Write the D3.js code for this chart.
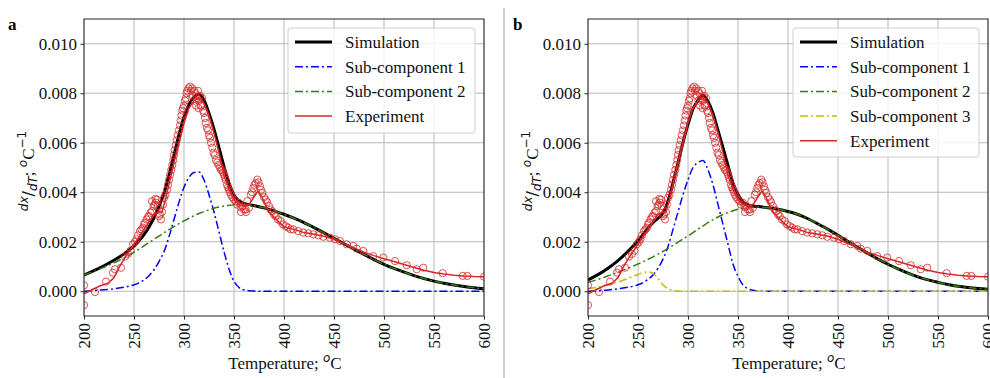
<!DOCTYPE html>
<html>
<head>
<meta charset="utf-8">
<script src="https://cdn.jsdelivr.net/npm/d3@7"></script>
<style>
  body { margin: 0; background: #fff; }
  svg { display: block; }
</style>
</head>
<body>
<svg id="chart" width="990" height="378"></svg>
<script>
// Temperature grid (°C) shared by the simulated curves
const temperature = [200,210,220,230,240,250,255,260,265,270,275,280,285,290,295,300,305,310,315,320,325,330,335,340,345,350,355,360,365,370,380,390,400,410,420,430,440,450,460,470,480,490,500,510,520,530,540,550,560,570,580,590,600];

// Panel a: two-component model
const simulationA = [0.00065,0.00083,0.00103,0.00125,0.00151,0.00183,
  0.00204,0.00229,0.0026,0.00297,0.00343,0.00396,0.00469,0.0055,0.00633,0.00704,
  0.00755,0.00785,0.00796,0.00772,0.00719,0.00655,0.0058,0.00504,0.00437,0.00389,
  0.00365,0.00355,0.0035,0.00346,
  0.00337,0.00325,0.00311,0.00295,0.00277,0.00257,0.00236,0.00214,0.00192,0.0017,0.00149,0.00128,0.00109,0.00092,0.00077,0.00063,0.00051,0.00041,0.00032,0.00025,0.00019,0.00014,0.0001];
const comp1A = [0,0.00003,0.00006,0.0001,0.00016,0.00026,
  0.00034,0.00046,0.00063,0.00087,0.0012,0.0016,0.0022,0.0029,0.0036,0.0042,
  0.0046,0.0048,0.00482,0.0045,0.0039,0.0032,0.0024,0.0016,0.0009,0.0004,
  0.00015,0.00005,0.00002,0.00001,
  0,0,0,0,0,0,0,0,0,0,0,0,0,0,0,0,0,0,0,0,0,0,0];
const comp2A = [0.00065,0.0008,0.00097,0.00115,0.00135,0.00157,
  0.0017,0.00183,0.00197,0.0021,0.00223,0.00236,0.00249,0.00261,0.00273,0.00284,
  0.00295,0.00305,0.00314,0.00322,0.00329,0.00335,0.0034,0.00344,0.00347,0.00349,
  0.0035,0.0035,0.00348,0.00345,
  0.00337,0.00325,0.00311,0.00295,0.00277,0.00257,0.00236,0.00214,0.00192,0.0017,0.00149,0.00128,0.00109,0.00092,0.00077,0.00063,0.00051,0.00041,0.00032,0.00025,0.00019,0.00014,0.0001];

// Panel b: three-component model
const simulationB = [0.00046,0.00067,0.00093,0.00124,0.00161,0.00204,
  0.00229,0.00255,0.00277,0.00295,0.00317,0.00363,0.00438,0.00519,0.00601,0.00674,
  0.00737,0.00771,0.00792,0.00767,0.00719,0.0065,0.0058,0.00508,0.00436,0.00391,
  0.0036,0.00348,0.00344,0.00342,
  0.00337,0.00331,0.00322,0.0031,0.00293,0.00272,0.0025,0.00226,0.00201,0.00177,0.00153,0.0013,0.00109,0.0009,0.00073,0.00058,0.00046,0.00036,0.00027,0.0002,0.00015,0.00011,0.00008];
const comp1B = [0,0.00002,0.00005,0.0001,0.00016,0.00026,
  0.00035,0.00048,0.00066,0.00093,0.0013,0.0018,0.0025,0.0032,0.0039,0.0045,
  0.005,0.0052,0.00528,0.0049,0.0043,0.0035,0.0027,0.0019,0.0011,0.0006,
  0.00025,0.0001,0.00004,0.00002,
  0,0,0,0,0,0,0,0,0,0,0,0,0,0,0,0,0,0,0,0,0,0,0];
const comp2B = [0.00036,0.00048,0.00062,0.00077,0.00093,0.0011,
  0.00119,0.00129,0.00139,0.0015,0.00161,0.00173,0.00185,0.00198,0.00211,0.00224,
  0.00237,0.00251,0.00264,0.00277,0.00289,0.003,0.0031,0.00318,0.00325,0.00331,
  0.00335,0.00338,0.0034,0.0034,
  0.00337,0.00331,0.00322,0.0031,0.00293,0.00272,0.0025,0.00226,0.00201,0.00177,0.00153,0.0013,0.00109,0.0009,0.00073,0.00058,0.00046,0.00036,0.00027,0.0002,0.00015,0.00011,0.00008];
const comp3B = [0.0001,0.00017,0.00026,0.00037,0.00052,0.00068,
  0.00075,0.00078,0.00072,0.00052,0.00026,0.0001,0.00003,0.00001,0,0,
  0,0,0,0,0,0,0,0,0,0,
  0,0,0,0,
  0,0,0,0,0,0,0,0,0,0,0,0,0,0,0,0,0,0,0,0,0,0,0];

// Measured curve (smoothed) and raw measurement points
const experimentT = [200,205,210,215,220,225,230,235,240,245,250,255,260,265,270,274,278,282,286,290,295,300,305,310,315,320,325,330,335,340,345,350,355,360,365,370,374,378,385,390,395,400,410,420,430,440,450,460,470,480,490,500,510,520,530,540,550,560,570,580,590,600];
const experimentV = [-0.0001,0,0.0001,0.0002,0.00027,0.00035,0.00055,0.00095,0.0013,0.0016,
  0.0019,0.0022,0.0025,0.0028,0.0031,0.0032,0.0032,0.0038,0.0045,0.0052,
  0.006,0.0068,0.0074,0.0077,0.0078,0.0076,0.0071,0.0064,0.0056,0.0047,
  0.0041,0.0037,0.0035,0.00345,0.0035,0.0038,0.00405,0.0038,0.0032,0.003,
  0.0028,0.0026,0.0025,0.00237,0.0023,0.00222,0.0021,0.00193,0.00175,0.00158,
  0.00144,0.00131,0.0012,0.00108,0.00096,0.00085,0.00076,0.0007,0.00065,0.00062,
  0.0006,0.00059];
const experimentPoints = [[200,0.00024],[200,-0.00056],[211,-0.00003],[222,0.00039],[229,0.00075],[231,0.00089],[237,0.00095],[241,0.0014],[244,0.00151],[246.5,0.00164],[249,0.0019],[251,0.002],[252.5,0.0021],[254,0.00226],[256,0.00243],[257.5,0.0025],[259,0.00257],[260,0.0027],[261,0.00277],[262.5,0.0029],[264,0.003],[265,0.00304],[266.5,0.00317],[268,0.00324],[268,0.00364],[269.5,0.00344],[270.5,0.0035],[271.5,0.00373],[272,0.00358],[273,0.0037],[274,0.00344],[275,0.00303],[276,0.0031],[277,0.0029],[278,0.0032],[279,0.0035],[280,0.00377],[281.5,0.0039],[283,0.0041],[284,0.0043],[285,0.0045],[286,0.0047],[287.3,0.0049],[288.3,0.0051],[289.3,0.0053],[290,0.0055],[290.7,0.0057],[291.7,0.0059],[292.7,0.0061],[293.7,0.0063],[295,0.0065],[296,0.0067],[296.7,0.0069],[297.5,0.0071],[298.3,0.0073],[299,0.0074],[300,0.0075],[301,0.0077],[301.7,0.0078],[302.5,0.008],[303.3,0.0081],[304.5,0.0082],[306,0.00827],[307,0.0081],[308.3,0.0082],[309,0.0079],[310,0.0081],[310.5,0.0077],[311.5,0.008],[312,0.0075],[313,0.0078],[314,0.0081],[314.5,0.0074],[315,0.0077],[316,0.0079],[316.5,0.0075],[317.3,0.0075],[318,0.0078],[319,0.0073],[320,0.0072],[321,0.007],[321.7,0.0068],[323,0.0066],[324,0.0065],[325,0.0063],[326,0.0062],[327,0.006],[328.3,0.0058],[329.5,0.0056],[330.7,0.0055],[332,0.0053],[333.3,0.0052],[334.5,0.0051],[336,0.005],[337,0.0049],[338.3,0.0049],[339,0.0048],[340,0.0047],[341,0.0046],[341.7,0.0045],[343,0.0043],[344,0.0042],[345,0.0041],[346,0.004],[347,0.0039],[348.3,0.0038],[350,0.0037],[351.7,0.00364],[353,0.0035],[355,0.00357],[356.5,0.0034],[357,0.0032],[358.3,0.00344],[360,0.0033],[361.7,0.0033],[362,0.0032],[363.3,0.00364],[365,0.00337],[366.7,0.0039],[368,0.004],[369.3,0.00417],[370.5,0.0043],[371.7,0.00437],[373.3,0.00451],[374.5,0.0044],[376,0.00424],[377,0.0041],[378.3,0.00397],[380,0.0038],[381.7,0.0037],[383,0.0036],[385,0.00344],[386.5,0.0033],[388.3,0.00323],[390,0.0031],[391.7,0.00303],[394,0.0029],[396.7,0.00283],[399,0.0027],[401.7,0.00263],[404,0.00257],[406.7,0.0025],[409.3,0.0025],[414.3,0.00243],[419.3,0.00237],[424.3,0.00234],[429.3,0.0023],[434.3,0.00226],[439.3,0.0022],[446,0.00216],[451,0.0021],[456,0.00203],[462.7,0.0019],[469.3,0.00183],[472.7,0.00172],[479.3,0.00163],[489.3,0.00142],[499.3,0.00136],[511,0.00122],[522.7,0.00105],[532.7,0.00089],[539.3,0.00095],[558.7,0.00073],[578.7,0.00062],[583.3,0.00062],[600,0.00059]];

// Axis ticks
const xTicks = [200,250,300,350,400,450,500,550,600];
const yTicks = [0,0.002,0.004,0.006,0.008,0.010];

const SERIF = "'Liberation Serif','Times New Roman',Times,serif";
const SANS = "'DejaVu Sans',sans-serif";
const RED = "#d62728";

const svg = d3.select("#chart");

// thin divider between the panels
svg.append("line").attr("x1", 504).attr("x2", 504).attr("y1", 8).attr("y2", 378)
  .attr("stroke", "#9a9a9a").attr("stroke-width", 1);

function drawPanel(p) {
  const top = 19, bottom = 316;
  const x = d3.scaleLinear().domain([200, 600]).range([p.x0, p.x0 + 400]);
  const y = d3.scaleLinear().domain([-0.001, 0.011]).range([bottom, top]);
  const g = svg.append("g");

  const clipId = "clip-" + p.tag;
  svg.append("clipPath").attr("id", clipId).append("rect")
    .attr("x", p.x0).attr("y", top).attr("width", 400).attr("height", bottom - top);

  // grid
  g.append("g").selectAll("line").data(xTicks).join("line")
    .attr("x1", d => x(d)).attr("x2", d => x(d)).attr("y1", top).attr("y2", bottom)
    .attr("stroke", "#b9b9b9").attr("stroke-width", 1);
  g.append("g").selectAll("line").data(yTicks).join("line")
    .attr("x1", p.x0).attr("x2", p.x0 + 400).attr("y1", d => y(d)).attr("y2", d => y(d))
    .attr("stroke", "#b9b9b9").attr("stroke-width", 1);

  // curves
  const plot = g.append("g").attr("clip-path", `url(#${clipId})`);
  const smooth = d3.line().x(d => x(d[0])).y(d => y(d[1])).curve(d3.curveMonotoneX);
  const straight = d3.line().x(d => x(d[0])).y(d => y(d[1]));

  p.series.forEach(s => {
    const pts = s.values.map((v, i) => [s.t[i], v]);
    plot.append("path").attr("d", s.smooth ? smooth(pts) : straight(pts))
      .attr("fill", "none").attr("stroke", s.color).attr("stroke-width", s.width)
      .attr("stroke-dasharray", s.dash || null).attr("stroke-linejoin", "round");
  });

  plot.append("g").selectAll("circle").data(experimentPoints).join("circle")
    .attr("cx", d => x(d[0])).attr("cy", d => y(d[1])).attr("r", 3.6)
    .attr("fill", "none").attr("stroke", RED).attr("stroke-opacity", 0.8).attr("stroke-width", 1);

  // axes
  const ax = g.append("g").attr("transform", `translate(0,${bottom})`)
    .call(d3.axisBottom(x).tickValues(xTicks).tickFormat(d3.format("d")).tickSize(3.5).tickPadding(3.5));
  ax.select(".domain").remove();
  ax.selectAll("text").attr("transform", "rotate(-90)").attr("text-anchor", "end")
    .attr("x", -7).attr("y", 0).attr("dy", "0.35em")
    .style("font-family", SERIF).style("font-size", "17px").attr("fill", "#111");
  ax.selectAll("line").attr("stroke", "#222");

  const ay = g.append("g").attr("transform", `translate(${p.x0},0)`)
    .call(d3.axisLeft(y).tickValues(yTicks).tickFormat(d3.format(".3f")).tickSize(3.5).tickPadding(3.5));
  ay.select(".domain").remove();
  ay.selectAll("text").style("font-family", SERIF).style("font-size", "17px").attr("fill", "#111");
  ay.selectAll("line").attr("stroke", "#222");

  g.append("rect").attr("x", p.x0).attr("y", top).attr("width", 400).attr("height", bottom - top)
    .attr("fill", "none").attr("stroke", "#262626").attr("stroke-width", 1);

  // x label
  const xl = g.append("text").attr("x", p.x0 + 201).attr("y", 369).attr("text-anchor", "middle")
    .style("font-family", SERIF).style("font-size", "17px").attr("fill", "#111");
  xl.append("tspan").text("Temperature; ");
  xl.append("tspan").text("o").style("font-size", "12px").attr("dy", -7)
    .style("font-family", SANS).style("font-style", "italic");
  xl.append("tspan").text("C").attr("dy", 7);

  // y label
  const yl = g.append("text").attr("transform", `translate(${p.x0 - 50},171) rotate(-90)`)
    .attr("text-anchor", "middle").style("font-family", SERIF).style("font-size", "17px").attr("fill", "#111");
  yl.append("tspan").text("dx").style("font-family", SANS).style("font-style", "italic").style("font-size", "12px").attr("dy", -6);
  yl.append("tspan").text("/").style("font-family", SANS).style("font-size", "16px").attr("dy", 6);
  yl.append("tspan").text("dT").style("font-family", SANS).style("font-style", "italic").style("font-size", "12px").attr("dy", 3);
  yl.append("tspan").text("; ").attr("dy", -3);
  yl.append("tspan").text("o").style("font-family", SANS).style("font-style", "italic").style("font-size", "12px").attr("dy", -7);
  yl.append("tspan").text("C").attr("dy", 7);
  yl.append("tspan").text("−1").style("font-family", SANS).style("font-size", "12px").attr("dy", -8);

  // panel tag
  svg.append("text").attr("x", p.tagX).attr("y", 30).text(p.tag)
    .style("font-family", SERIF).style("font-size", "17px").style("font-weight", "bold").attr("fill", "#000");

  // legend
  const L = p.legend;
  const lg = g.append("g");
  lg.append("rect").attr("x", L.x).attr("y", L.y).attr("width", L.w).attr("height", L.h)
    .attr("rx", 3).attr("fill", "#fff").attr("fill-opacity", 0.8)
    .attr("stroke", "#cfcfcf").attr("stroke-width", 1);
  p.legendItems.forEach((s, i) => {
    const cy = L.y + 14 + i * 24.7;
    lg.append("line").attr("x1", L.x + 7).attr("x2", L.x + 44).attr("y1", cy).attr("y2", cy)
      .attr("stroke", s.color).attr("stroke-width", s.width).attr("stroke-dasharray", s.dash || null);
    lg.append("text").attr("x", L.x + 57).attr("y", cy).attr("dy", "0.35em").text(s.name)
      .style("font-family", SERIF).style("font-size", "17px").attr("fill", "#111");
  });
}

const DASHDOT = "8,3,2,3";
const sim = (v) => ({ name: "Simulation", t: temperature, values: v, color: "#000", width: 3, smooth: true });
const exper = { name: "Experiment", t: experimentT, values: experimentV, color: RED, width: 1.5, smooth: false };

const sA = sim(simulationA);
const c1A = { name: "Sub-component 1", t: temperature, values: comp1A, color: "#0000ff", width: 1.5, dash: DASHDOT, smooth: true };
const c2A = { name: "Sub-component 2", t: temperature, values: comp2A, color: "#3a7a12", width: 1.5, dash: DASHDOT, smooth: true };
drawPanel({ tag: "a", tagX: 8, x0: 84, series: [sA, c1A, c2A, exper],
  legendItems: [sA, c1A, c2A, exper], legend: { x: 288, y: 28, w: 187, h: 105 } });

const sB = sim(simulationB);
const c1B = { name: "Sub-component 1", t: temperature, values: comp1B, color: "#0000ff", width: 1.5, dash: DASHDOT, smooth: true };
const c2B = { name: "Sub-component 2", t: temperature, values: comp2B, color: "#3a7a12", width: 1.5, dash: DASHDOT, smooth: true };
const c3B = { name: "Sub-component 3", t: temperature, values: comp3B, color: "#bfbf00", width: 1.5, dash: DASHDOT, smooth: true };
drawPanel({ tag: "b", tagX: 513, x0: 588, series: [sB, c1B, c2B, c3B, exper],
  legendItems: [sB, c1B, c2B, c3B, exper], legend: { x: 793, y: 28, w: 186, h: 129 } });
</script>
</body>
</html>
